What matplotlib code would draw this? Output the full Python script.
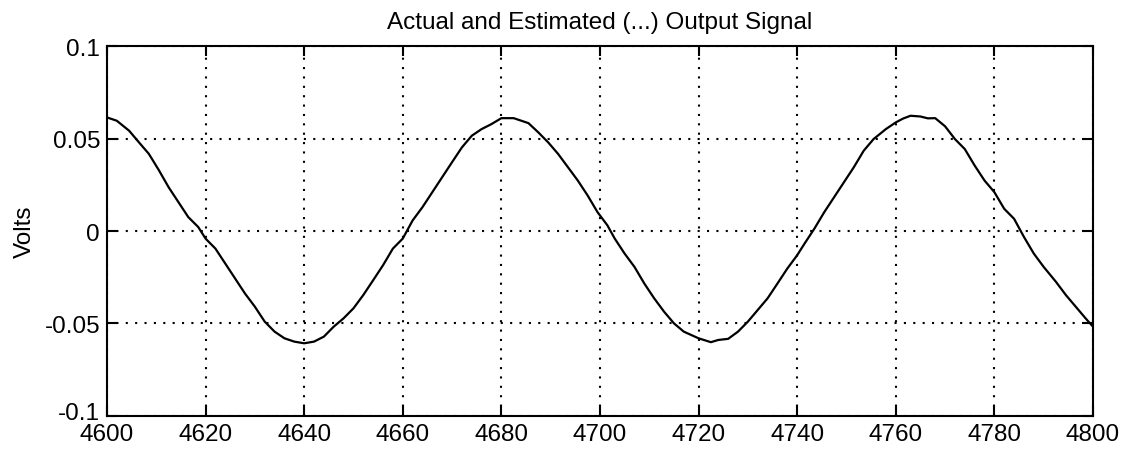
import numpy as np
import matplotlib
matplotlib.use("Agg")
import matplotlib.pyplot as plt
import matplotlib.transforms as mtransforms

# sample index
sample = [4600, 4602, 4604.5, 4606.5, 4608.5, 4610.5, 4612.5, 4614.5, 4616.5, 4618.5,
          4620, 4622, 4624, 4626, 4628, 4630, 4632, 4634, 4636, 4638,
          4640, 4642, 4644, 4646, 4648, 4650, 4652, 4654, 4656, 4658,
          4660, 4662, 4664, 4666, 4668, 4670, 4672, 4674, 4676, 4678,
          4680, 4682.5, 4685.5, 4687.5, 4689.5, 4691.5, 4693.5, 4695.5, 4697.5, 4699.5,
          4701.5, 4703, 4705, 4707, 4709, 4711, 4713, 4715, 4717, 4720,
          4722.5, 4724, 4726, 4728, 4730, 4732, 4734, 4736, 4738, 4740,
          4741.5, 4743.5, 4745.5, 4747.5, 4749.5, 4751.5, 4753.5, 4755.5, 4758, 4760,
          4761.5, 4763, 4765, 4766.5, 4768, 4770, 4772, 4774, 4776, 4778,
          4780, 4782, 4784, 4786, 4788, 4790, 4792.5, 4794.5, 4796.5, 4798.5, 4800]

# output signal in millivolts
signal_mv = [61.4, 59.6, 54.2, 47.9, 41.7, 33.0, 23.7, 15.6, 7.5, 2.2,
             -4.1, -9.5, -17.6, -25.7, -33.8, -40.9, -49.0, -54.4, -58.0, -59.8,
             -60.7, -59.8, -57.1, -51.7, -47.2, -41.8, -34.6, -26.6, -18.5, -9.5,
             -4.1, 5.7, 12.9, 21.0, 29.1, 37.2, 45.2, 51.5, 55.1, 57.8,
             61.0, 61.0, 58.3, 53.3, 47.9, 41.7, 34.5, 27.3, 19.2, 10.2,
             3.1, -4.1, -12.2, -19.4, -28.4, -36.4, -43.6, -49.9, -54.4, -58.0,
             -60.1, -58.9, -58.3, -54.4, -49.0, -42.7, -36.4, -28.4, -20.3, -13.1,
             -6.8, 1.3, 10.2, 18.3, 26.4, 34.5, 43.4, 49.7, 55.1, 58.7,
             60.8, 62.3, 61.9, 60.9, 61.0, 56.6, 49.7, 44.3, 35.4, 27.3,
             21.0, 12.0, 6.6, -3.2, -12.2, -19.4, -27.5, -34.6, -40.9, -47.2, -51.7]

xticks = [4600, 4620, 4640, 4660, 4680, 4700, 4720, 4740, 4760, 4780, 4800]
yticks = [-0.1, -0.05, 0, 0.05, 0.1]
ytick_labels = ["-0.1", "-0.05", "0", "0.05", "0.1"]

plt.rcParams['font.family'] = ['Liberation Sans', 'DejaVu Sans']
fs = 17.5

fig = plt.figure(figsize=(11.27, 4.6), dpi=100)
ax = fig.add_axes([0.0949, 0.0935, 0.8749, 0.8043])

ax.plot(sample, np.array(signal_mv) / 1000.0, color='black', linewidth=1.6)

ax.set_xlim(4600, 4800)
ax.set_ylim(-0.1, 0.1)
ax.set_xticks(xticks)
ax.set_xticklabels([str(t) for t in xticks])
ax.set_yticks(yticks)
ax.set_yticklabels(ytick_labels)

ax.grid(True, color='black', linestyle=(0, (1, 3.5)), linewidth=1.5)
ax.tick_params(direction='in', length=7, width=1.5, top=True, right=True,
               labelsize=fs, colors='black')
ax.tick_params(axis='x', pad=5)
ax.tick_params(axis='y', pad=5)
for s in ax.spines.values():
    s.set_linewidth(1.5)

# lift the bottom y label a little so it sits just above "4600"
lbl = ax.get_yticklabels()[0]
lbl.set_transform(lbl.get_transform() + mtransforms.ScaledTranslation(0, 4 / 72, fig.dpi_scale_trans))

ax.set_ylabel('Volts', fontsize=fs, labelpad=6)
ax.set_title('Actual and Estimated (...) Output Signal', fontsize=fs, pad=13)

fig.savefig('out.png', dpi=100, facecolor='white')
